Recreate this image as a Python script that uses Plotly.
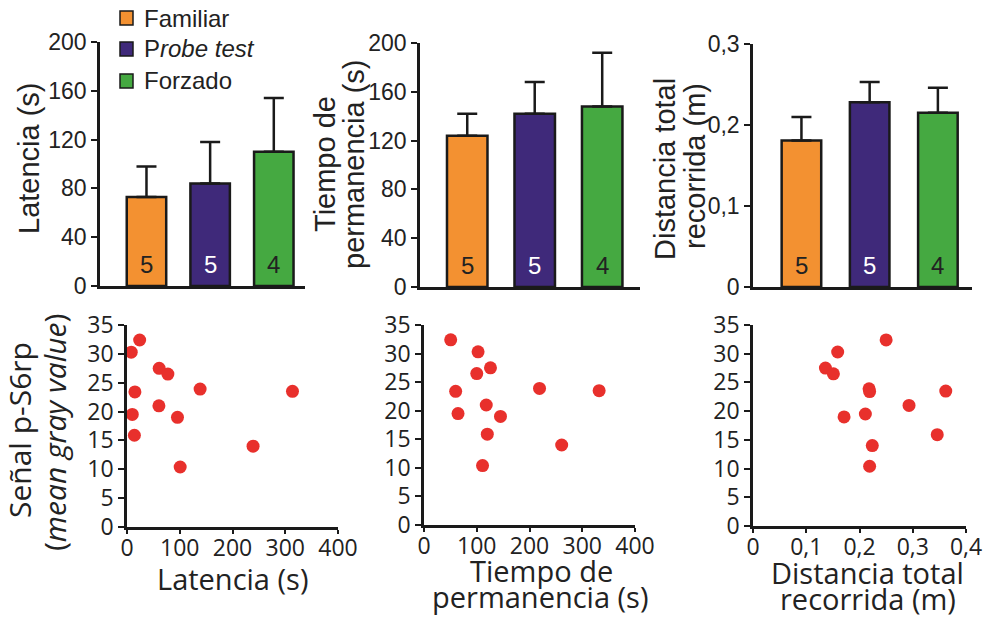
import plotly.graph_objects as go

W, H = 986, 620

# ---- groups ----
groups = ["Familiar", "Probe test", "Forzado"]
group_labels = ["Familiar", "P<i>robe test</i>", "Forzado"]
group_colors = ["#F39131", "#3F297A", "#45A941"]
n_animals = [5, 5, 4]
n_text_colors = ["#222222", "#FFFFFF", "#222222"]

# ---- bar panels: mean and upper error ----
latencia_mean = [73, 84, 110]
latencia_err = [25, 34, 44]
permanencia_mean = [124, 142, 148]
permanencia_err = [18, 26, 44]
distancia_mean = [0.181, 0.228, 0.215]
distancia_err = [0.029, 0.025, 0.031]

# ---- correlation panels ----
senal_ps6rp = [32.4, 30.3, 27.5, 26.5, 23.9, 23.5, 23.4, 21.0, 19.5, 19.0, 15.9, 14.0, 10.4]
latencia_ind = [24, 8, 61, 77.5, 138.6, 313.7, 15, 60.5, 10, 95.7, 14, 239, 100.8]
permanencia_ind = [50.6, 102.5, 126, 100, 219, 332, 60, 118, 64.5, 145, 120, 261, 111]
distancia_ind = [0.25, 0.159, 0.136, 0.151, 0.218, 0.362, 0.219, 0.293, 0.211, 0.171, 0.346, 0.224, 0.219]

INK = "#1a1a1a"
RED = "#E8302C"
ARIAL = "Liberation Sans, Arial, sans-serif"
HUM = "Open Sans, sans-serif"


def xdom(a, b):
    return [a / W, b / W]


def ydom(top, bottom):
    return [1 - bottom / H, 1 - top / H]


def px(x):
    return x / W


def py(y):
    return 1 - y / H


axis_common = dict(
    showline=True, linecolor=INK, linewidth=2.5, showgrid=False, zeroline=False,
    ticks="outside", ticklen=6, tickwidth=2, tickcolor=INK, automargin=False,
)

fig = go.Figure()

bar_panels = [
    ("x", "y", latencia_mean, latencia_err, 0.62),
    ("x2", "y2", permanencia_mean, permanencia_err, 0.6),
    ("x3", "y3", distancia_mean, distancia_err, 0.58),
]
for xa, ya, mean, err, w in bar_panels:
    fig.add_trace(go.Bar(
        x=groups, y=mean, width=w, xaxis=xa, yaxis=ya,
        marker=dict(color=group_colors, line=dict(color=INK, width=2.5)),
        error_y=dict(type="data", symmetric=False, array=err, arrayminus=[0] * len(err),
                     color=INK, thickness=2.5, width=10),
        showlegend=False, hoverinfo="skip",
    ))
    for i, g in enumerate(groups):
        fig.add_annotation(
            x=g, y=0, xref=xa, yref=ya, text=str(n_animals[i]), showarrow=False,
            yanchor="bottom", yshift=6,
            font=dict(family=ARIAL, size=24, color=n_text_colors[i]),
        )

scatter_panels = [("x4", "y4", latencia_ind), ("x5", "y5", permanencia_ind), ("x6", "y6", distancia_ind)]
for xa, ya, xs in scatter_panels:
    fig.add_trace(go.Scatter(
        x=xs, y=senal_ps6rp, mode="markers", xaxis=xa, yaxis=ya, cliponaxis=False,
        marker=dict(size=13, color=RED), showlegend=False, hoverinfo="skip",
    ))

top_tick_font = dict(family=ARIAL, size=23, color="#222222")
bot_tick_font = dict(family=HUM, size=23, color="#222222")
bot_x = dict(axis_common, range=[0, 400], dtick=100, tickfont=bot_tick_font, ticklen=4,
             ticklabelstandoff=-5)
bot_y = dict(axis_common, range=[0, 35], dtick=5, tickfont=bot_tick_font)

fig.update_layout(
    width=W, height=H, margin=dict(l=0, r=0, t=0, b=0),
    paper_bgcolor="white", plot_bgcolor="white", separators=",.",
    xaxis=dict(axis_common, domain=xdom(100, 305), range=[-0.73, 2.49], anchor="y",
               showticklabels=False, ticks=""),
    yaxis=dict(axis_common, domain=ydom(42, 286), range=[0, 200], dtick=40, anchor="x",
               tickfont=top_tick_font),
    xaxis2=dict(axis_common, domain=xdom(420, 640), range=[-0.70, 2.56], anchor="y2",
                showticklabels=False, ticks=""),
    yaxis2=dict(axis_common, domain=ydom(43, 287), range=[0, 200], dtick=40, anchor="x2",
                tickfont=top_tick_font),
    xaxis3=dict(axis_common, domain=xdom(753, 972), range=[-0.71, 2.5], anchor="y3",
                showticklabels=False, ticks=""),
    yaxis3=dict(axis_common, domain=ydom(44, 287), range=[0, 0.3], dtick=0.1, anchor="x3",
                tickfont=top_tick_font),
    xaxis4=dict(bot_x, domain=xdom(127, 338), anchor="y4"),
    yaxis4=dict(bot_y, domain=ydom(325, 527), anchor="x4"),
    xaxis5=dict(bot_x, domain=xdom(424, 635), anchor="y5"),
    yaxis5=dict(bot_y, domain=ydom(325, 525), anchor="x5"),
    xaxis6=dict(bot_x, domain=xdom(753, 966), range=[0, 0.4], dtick=0.1, anchor="y6"),
    yaxis6=dict(bot_y, domain=ydom(325, 526), anchor="x6"),
)

# ---- legend: swatches and labels ----
legend_rows = [18, 49, 81]
for i, label in enumerate(group_labels):
    yc = legend_rows[i]
    fig.add_shape(type="rect", xref="paper", yref="paper",
                  x0=px(120), x1=px(133), y0=py(yc + 7), y1=py(yc - 7),
                  fillcolor=group_colors[i], line=dict(color=INK, width=1.5))
    fig.add_annotation(x=px(142), y=py(yc), xref="paper", yref="paper", text=label,
                       showarrow=False, xanchor="left", yanchor="middle",
                       font=dict(family=ARIAL, size=24, color="#222222"))


# ---- axis titles ----
def title(text, x, y, family, size, angle=0):
    fig.add_annotation(x=px(x), y=py(y), xref="paper", yref="paper", text=text,
                       showarrow=False, xanchor="center", yanchor="middle", textangle=angle,
                       font=dict(family=family, size=size, color="#222222"))


title("Latencia (s)", 29, 158, ARIAL, 29, -90)
title("Tiempo de", 325, 164, ARIAL, 29, -90)
title("permanencia (s)", 354, 164, ARIAL, 29, -90)
title("Distancia total", 665, 169, ARIAL, 29, -90)
title("recorrida (m)", 695, 166, ARIAL, 29, -90)

title("Señal p-S6rp", 19, 430, HUM, 30, -90)
title("(<i>mean gray value</i>)", 54, 433, HUM, 30, -90)
title("Latencia (s)", 232, 578, HUM, 29)
title("Tiempo de", 541, 570, HUM, 29)
title("permanencia (s)", 540, 596, HUM, 29)
title("Distancia total", 867, 572, HUM, 29)
title("recorrida (m)", 868, 598, HUM, 29)

fig.write_html("out.html")
